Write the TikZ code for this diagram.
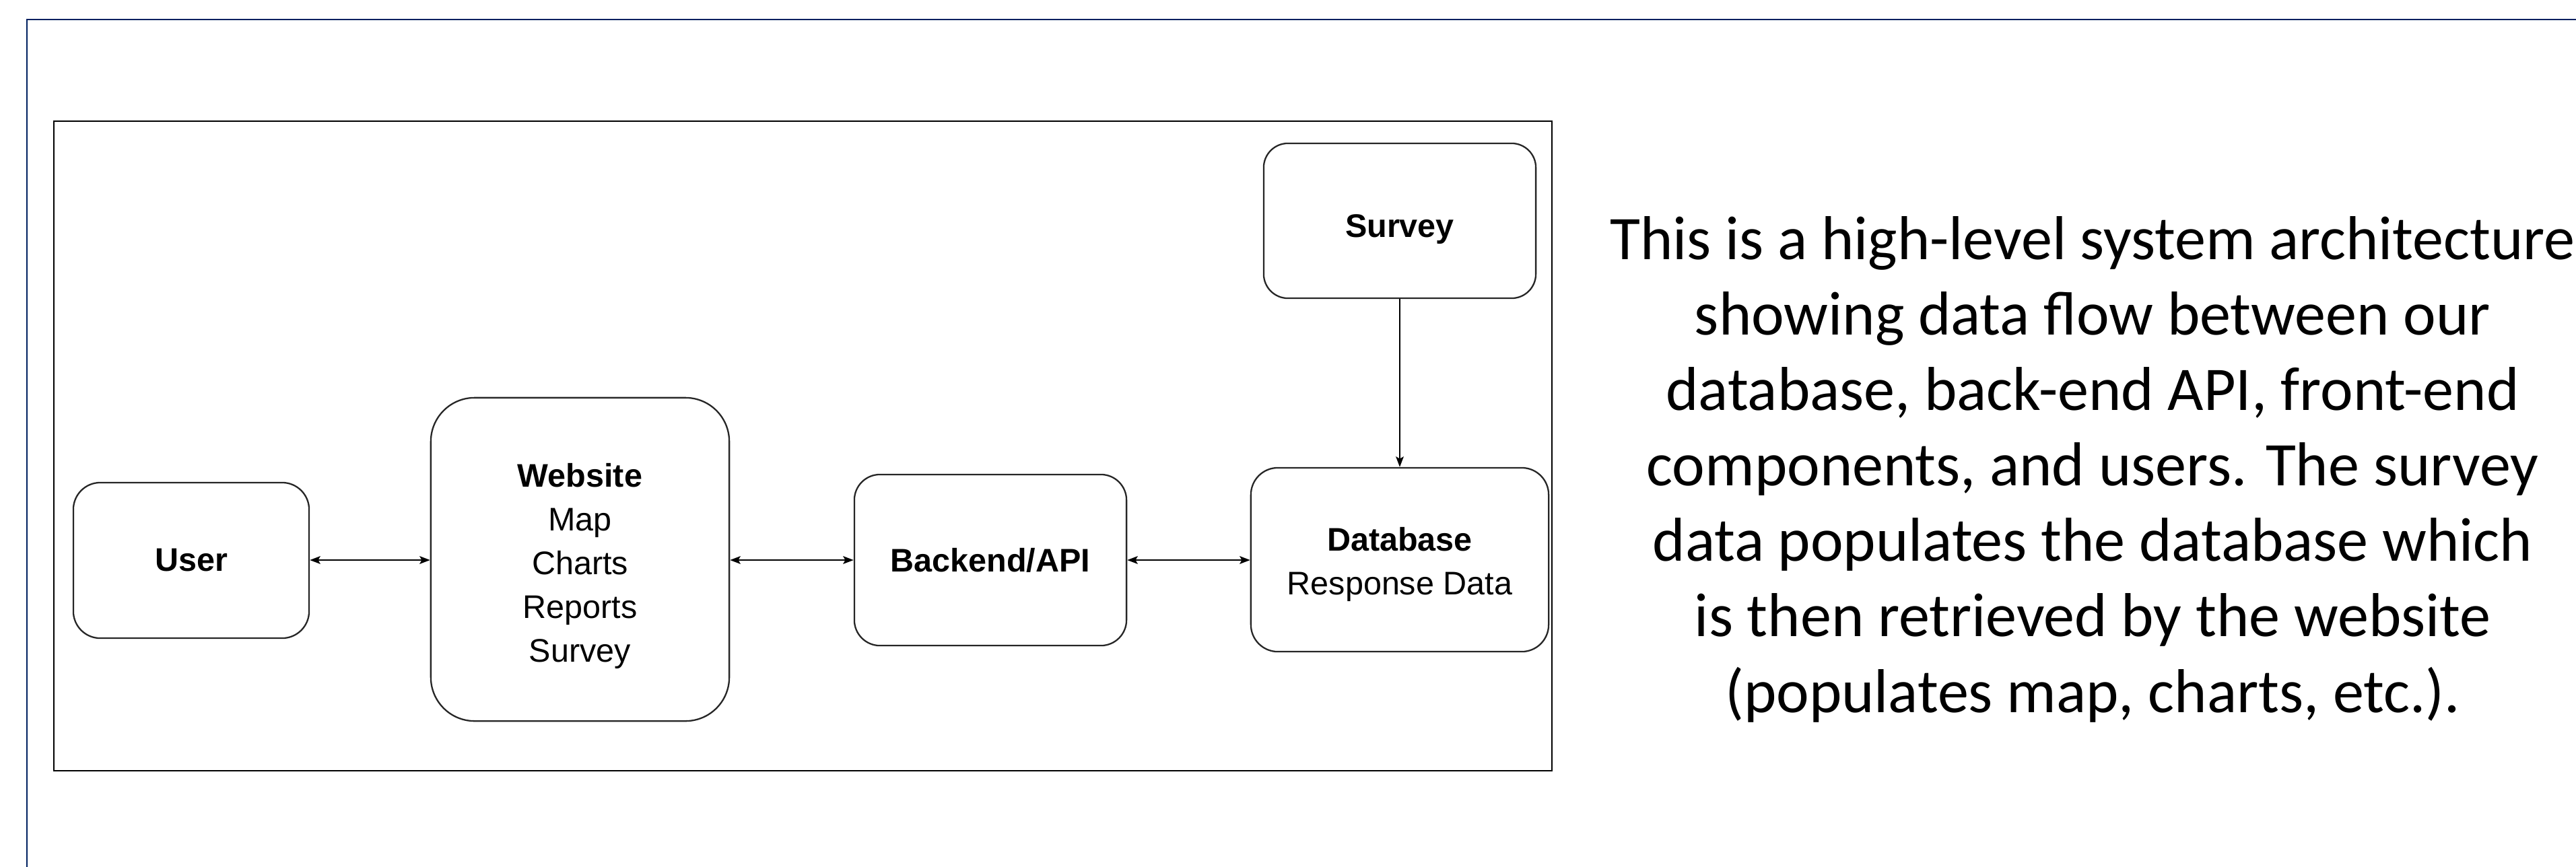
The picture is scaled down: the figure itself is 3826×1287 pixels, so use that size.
\documentclass[tikz,border=0pt]{standalone}
\usepackage{fontspec}
\newfontfamily\arialf{Liberation Sans}
\newfontfamily\calib{Carlito}
\usetikzlibrary{arrows.meta}
\definecolor{navyframe}{HTML}{002060}
\begin{document}
\begin{tikzpicture}[x=0.01cm, y=-0.01cm,
  box/.style={draw=black!85, line width=0.65pt, inner sep=0pt, align=center,
    font=\arialf\fontsize{13.8pt}{18.5pt}\selectfont},
  conn/.style={line width=0.6pt, black},
  mytip/.tip={Stealth[length=4.4pt, width=3.3pt, inset=0.9pt]}
]
\useasboundingbox (0,0) rectangle (3826,1287);
% outer blue frame (extends beyond picture on right and bottom)
\draw[navyframe, line width=0.7pt] (40,1300) -- (40,29) -- (3840,29);
% inner black frame
\draw[black, line width=0.75pt] (80,180) rectangle (2305,1145);

\node[box, rounded corners=0.40cm, minimum width=3.50cm, minimum height=2.31cm]
  (user) at (284,832.5) {\textbf{User}};
\node[box, rounded corners=0.65cm, minimum width=4.43cm, minimum height=4.80cm]
  (web) at (861.5,831) {\rule{0pt}{15.6pt}\textbf{Website}\\Map\\Charts\\Reports\\Survey};
\node[box, rounded corners=0.38cm, minimum width=4.04cm, minimum height=2.54cm]
  (api) at (1471,832) {\textbf{Backend/API}};
\node[box, rounded corners=0.40cm, minimum width=4.42cm, minimum height=2.73cm]
  (db) at (2079,831.5) {\rule{0pt}{13.9pt}\textbf{Database}\\Response Data};
\node[box, rounded corners=0.36cm, minimum width=4.04cm, minimum height=2.30cm]
  (survey) at (2079,328) {\rule{0pt}{16.9pt}\textbf{Survey}};

\draw[conn, mytip-mytip] (user.east |- 0,832) -- (web.west |- 0,832);
\draw[conn, mytip-mytip] (web.east |- 0,832) -- (api.west |- 0,832);
\draw[conn, mytip-mytip] (api.east |- 0,832) -- (db.west |- 0,832);
\draw[conn, -mytip] (survey.south) -- (db.north);

\node[align=center, inner sep=0pt, anchor=center,
  font=\calib\fontsize{26.2pt}{31.9pt}\selectfont] (desc) at (3108,697)
  {This is a high-level system architecture\\
   showing data flow between our\\
   database, back-end API, front-end\\
   components, and users. The survey\\
   data populates the database which\\
   is then retrieved by the website\\
   (populates map, charts, etc.).};
\end{tikzpicture}
\end{document}
